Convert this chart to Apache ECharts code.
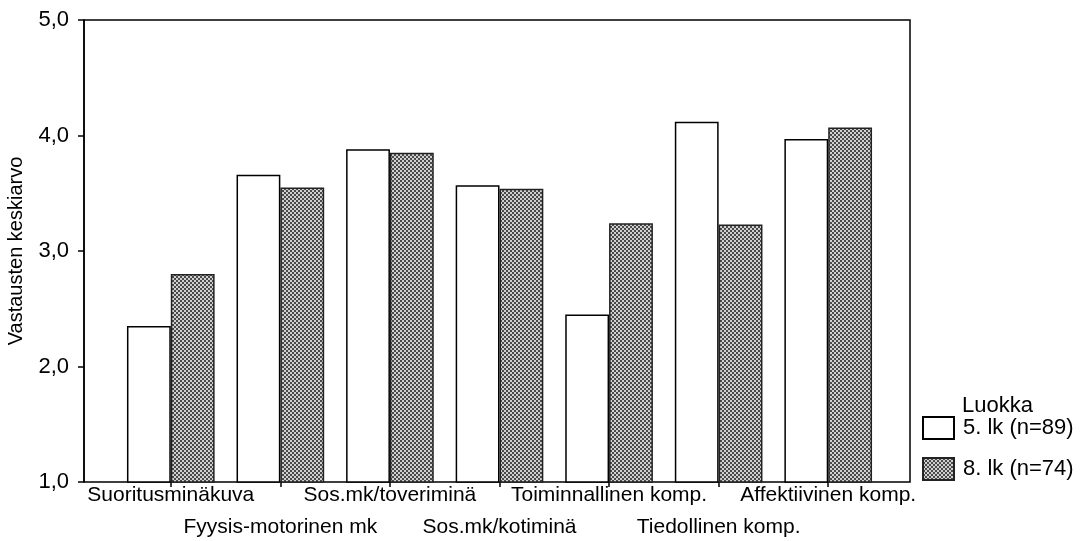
<!DOCTYPE html>
<html>
<head>
<meta charset="utf-8">
<script src="https://cdn.jsdelivr.net/npm/echarts@6/dist/echarts.min.js"></script>
<style>
  html, body { margin: 0; padding: 0; background: #fff; }
  #chart { width: 1080px; height: 541px; }
</style>
</head>
<body>
<div id="chart"></div>
<script>
const categories = [
  'Suoritusminäkuva',
  'Fyysis-motorinen mk',
  'Sos.mk/toveriminä',
  'Sos.mk/kotiminä',
  'Toiminnallinen komp.',
  'Tiedollinen komp.',
  'Affektiivinen komp.'
];
const grade5 = [2.35, 3.66, 3.88, 3.57, 2.45, 4.12, 3.97];
const grade8 = [2.80, 3.55, 3.85, 3.54, 3.24, 3.23, 4.07];
const seriesNames = ['5. lk (n=89)', '8. lk (n=74)'];
const yTicks = [1, 2, 3, 4, 5];

// checkered fill like the printed raster
function makePattern() {
  const c = document.createElement('canvas');
  c.width = 4;
  c.height = 4;
  const ctx = c.getContext('2d');
  ctx.fillStyle = '#d0d0d0';
  ctx.fillRect(0, 0, 4, 4);
  ctx.fillStyle = '#4a4a4a';
  ctx.fillRect(0, 0, 2, 2);
  ctx.fillRect(2, 2, 2, 2);
  return c;
}

const font = 'Liberation Sans, Arial, sans-serif';
const chart = echarts.init(document.getElementById('chart'));

chart.setOption({
  animation: false,
  backgroundColor: '#fff',
  title: {
    text: 'Luokka',
    left: 962,
    top: 395,
    padding: 0,
    textStyle: { fontFamily: font, fontSize: 22, fontWeight: 'normal', color: '#000' }
  },
  legend: {
    orient: 'vertical',
    left: 922,
    top: 416,
    padding: 0,
    itemWidth: 31,
    itemHeight: 22,
    itemGap: 17,
    icon: 'rect',
    textStyle: { fontFamily: font, fontSize: 22, color: '#000', padding: [0, 0, 0, 4] },
    data: seriesNames
  },
  grid: [
    { left: 84, right: 170, top: 20, bottom: 59, outerBoundsMode: 'none', show: true, borderColor: '#000', borderWidth: 1.5, backgroundColor: 'transparent' },
    { left: 116, right: 197, top: 20, bottom: 59, outerBoundsMode: 'none' }
  ],
  xAxis: [
    { gridIndex: 0, type: 'value', show: false, min: 0, max: 1 },
    {
      gridIndex: 1,
      type: 'category',
      data: categories,
      axisLine: { show: false },
      axisTick: { show: true, alignWithLabel: true, length: 5, lineStyle: { color: '#000', width: 1.5 } },
      axisLabel: {
        interval: 0,
        margin: -3,
        fontFamily: font,
        fontSize: 21,
        color: '#000',
        lineHeight: 32,
        formatter: (v, i) => (i % 2 ? '\n' + v : v)
      }
    }
  ],
  yAxis: [
    {
      gridIndex: 0,
      type: 'value',
      min: yTicks[0],
      max: yTicks[yTicks.length - 1],
      interval: 1,
      name: 'Vastausten keskiarvo',
      nameLocation: 'middle',
      nameGap: 58,
      nameTextStyle: { fontFamily: font, fontSize: 20, color: '#000' },
      axisLine: { show: true, lineStyle: { color: '#000', width: 1.5 } },
      axisTick: { show: true, length: 6, lineStyle: { color: '#000', width: 1.5 } },
      axisLabel: {
        margin: 15,
        fontFamily: font,
        fontSize: 22,
        color: '#000',
        formatter: v => v.toFixed(1).replace('.', ',')
      },
      splitLine: { show: false }
    },
    { gridIndex: 1, type: 'value', min: 1, max: 5, show: false }
  ],
  series: [
    {
      name: seriesNames[0],
      type: 'bar',
      xAxisIndex: 1,
      yAxisIndex: 1,
      barGap: '0%',
      barCategoryGap: '20%',
      data: grade5,
      itemStyle: { color: '#fff', borderColor: '#000', borderWidth: 1.5 }
    },
    {
      name: seriesNames[1],
      type: 'bar',
      xAxisIndex: 1,
      yAxisIndex: 1,
      barGap: '0%',
      barCategoryGap: '20%',
      data: grade8,
      itemStyle: {
        color: { image: makePattern(), repeat: 'repeat' },
        borderColor: '#222',
        borderWidth: 1.5
      }
    }
  ]
});
</script>
</body>
</html>
